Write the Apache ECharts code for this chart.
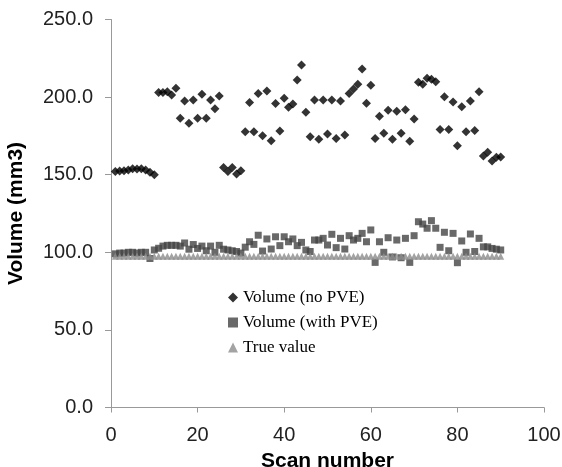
<!DOCTYPE html>
<html>
<head>
<meta charset="utf-8">
<script src="https://cdn.jsdelivr.net/npm/echarts@6/dist/echarts.min.js"></script>
<style>html,body{margin:0;padding:0;background:#fff}#c{width:562px;height:467px}</style>
</head>
<body>
<div id="c"></div>
<script>
const scans = [1,2,3,4,5,6,7,8,9,10,11,12,13,14,15,16,17,18,19,20,21,22,23,24,25,26,27,28,29,30,31,32,33,34,35,36,37,38,39,40,41,42,43,44,45,46,47,48,49,50,51,52,53,54,55,56,57,58,59,60,61,62,63,64,65,66,67,68,69,70,71,72,73,74,75,76,77,78,79,80,81,82,83,84,85,86,87,88,89,90];
const volumeNoPVE = [152,152.4,152.6,153,153.9,153.7,153.9,153,151.5,150,
  203,203,203.5,201.3,205.7,186.3,197.5,183.1,198.1,186.3,
  201.8,186.3,198.1,192.5,200.7,154.7,152,154.7,150.4,152.6,
  177.7,196.6,177.7,202.3,175.1,204,171.9,195.8,178.2,199.2,
  193.4,195.5,211,220.7,190.2,174.5,198.1,172.8,198.1,176.2,
  198.1,173.4,197.5,175.6,202.4,205.2,208.2,218.1,196,207.6,
  173.4,187.6,176.7,191.5,172.8,190.9,176.7,191.9,171.5,185.9,
  209.5,208.2,212.1,211.5,209.9,179.2,200.3,179.2,196.8,168.7,
  193.8,177.7,197.5,178.4,203.5,162,164.4,158.8,161.2,161.4];
const volumeWithPVE = [99,99.5,99.5,100,100,99.5,100,100,96,101.5,
  102.6,104,104.5,104.5,104.5,104,106,102,105,102.5,
  104,101,104,100,104.5,102,101.5,101,100.5,99.5,
  103.3,106.8,105.1,111,100.8,108.6,102.1,110,104.3,110,
  106.8,108.6,104.3,106.4,101.5,100.5,107.9,107.9,109,104.7,
  111.6,103,109,102.1,110.7,107.9,109,112.2,106.8,114.4,
  93.5,106.8,100,109.4,97,107.9,96.5,109,93.5,110.7,
  119.7,118.2,115.5,120.4,115.5,103.2,112.9,101,112.2,93.3,
  107.3,100,111.8,100.5,109,103.5,103.5,102.5,102,101.5];
const trueValue = [97.5,97.5,97.5,97.5,97.5,97.5,97.5,97.5,97.5,97.5,
  97.5,97.5,97.5,97.5,97.5,97.5,97.5,97.5,97.5,97.5,
  97.5,97.5,97.5,97.5,97.5,97.5,97.5,97.5,97.5,97.5,
  97.5,97.5,97.5,97.5,97.5,97.5,97.5,97.5,97.5,97.5,
  97.5,97.5,97.5,97.5,97.5,97.5,97.5,97.5,97.5,97.5,
  97.5,97.5,97.5,97.5,97.5,97.5,97.5,97.5,97.5,97.5,
  97.5,97.5,97.5,97.5,97.5,97.5,97.5,97.5,97.5,97.5,
  97.5,97.5,97.5,97.5,97.5,97.5,97.5,97.5,97.5,97.5,
  97.5,97.5,97.5,97.5,97.5,97.5,97.5,97.5,97.5,97.5];
const seriesNames = ['Volume (no PVE)','Volume (with PVE)','True value'];
const xTicks = {min:0, max:100, interval:20};
const yTicks = {min:0, max:250, interval:50};

const pair = v => scans.map((s,i)=>[s, v[i]]);
const chart = echarts.init(document.getElementById('c'));
chart.setOption({
  animation:false,
  backgroundColor:'#fff',
  grid:{left:111, right:18, top:19.5, bottom:59.5, containLabel:false, outerBoundsMode:'none'},
  legend:{
    orient:'vertical', left:223, top:284, itemGap:8, itemWidth:10, itemHeight:10,
    data:seriesNames,
    textStyle:{fontFamily:'Liberation Serif', fontSize:17, color:'#000'}
  },
  xAxis:{
    type:'value', min:xTicks.min, max:xTicks.max, interval:xTicks.interval,
    name:'Scan number', nameLocation:'middle', nameGap:39,
    nameTextStyle:{fontFamily:'Liberation Sans', fontWeight:'bold', fontSize:21, color:'#000'},
    axisLine:{show:true, lineStyle:{color:'#999'}},
    axisTick:{show:true, length:5, lineStyle:{color:'#999'}},
    axisLabel:{fontFamily:'Liberation Sans', fontSize:20, color:'#222', margin:18},
    splitLine:{show:false}
  },
  yAxis:{
    type:'value', min:yTicks.min, max:yTicks.max, interval:yTicks.interval,
    name:'Volume (mm3)', nameLocation:'middle', nameGap:84,
    nameTextStyle:{fontFamily:'Liberation Sans', fontWeight:'bold', fontSize:21, color:'#000'},
    axisLine:{show:true, lineStyle:{color:'#999'}},
    axisTick:{show:true, length:6, lineStyle:{color:'#999'}},
    axisLabel:{fontFamily:'Liberation Sans', fontSize:20, color:'#222', margin:18, formatter:v=>v.toFixed(1)},
    splitLine:{show:false}
  },
  series:[
    {name:seriesNames[0], type:'scatter', symbol:'diamond', symbolSize:9, itemStyle:{color:'#000'}, data:pair(volumeNoPVE)},
    {name:seriesNames[1], type:'scatter', symbol:'rect', symbolSize:7, itemStyle:{color:'#444'}, data:pair(volumeWithPVE)},
    {name:seriesNames[2], type:'scatter', symbol:'triangle', symbolSize:7, itemStyle:{color:'#8c8c8c'}, data:pair(trueValue)}
  ]
});
</script>
</body>
</html>
